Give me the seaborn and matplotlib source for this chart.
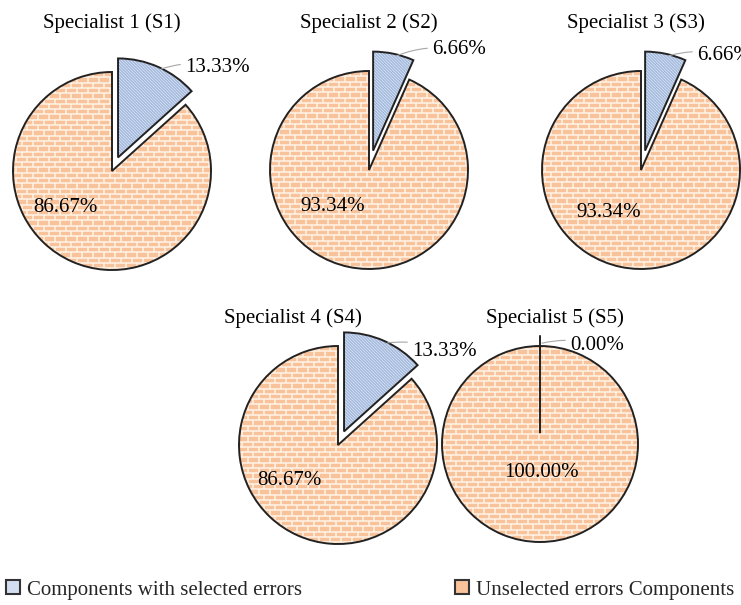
import numpy as np
import matplotlib
matplotlib.use("Agg")
import matplotlib.pyplot as plt
import seaborn as sns
from matplotlib.patches import Wedge, Patch
from matplotlib.collections import LineCollection

# ---- data -------------------------------------------------------------
titles = ["Specialist 1 (S1)", "Specialist 2 (S2)", "Specialist 3 (S3)",
          "Specialist 4 (S4)", "Specialist 5 (S5)"]
selected_pct = [13.33, 6.66, 6.66, 13.33, 0.00]
unselected_pct = [86.67, 93.34, 93.34, 86.67, 100.00]
legend_labels = ["Components with selected errors", "Unselected errors Components"]

# ---- layout (pixel units, y measured from the top) --------------------
W, H = 741, 605
centers = [(112, 171), (369, 170), (641, 170), (338, 445), (540, 444)]
radii = [99, 99, 99, 99, 98]
explode = [0.15, 0.2, 0.2, 0.15, 0.11]      # fraction of the radius
title_pos = [(112, 28), (369, 28), (636, 28), (293, 323), (555, 323)]
inner_pos = [(65, 212), (333, 211), (609, 217), (289, 485), (541, 477)]
outer_pos = [(185, 67), (432, 50), (697, 56), (412, 352), (570, 346)]

blue_face, blue_line = "#D3DFF1", "#9DB3DA"
orange_face, orange_line = "#F8C29A", "#FFF3E8"
edge = "#222222"

sns.set_theme(style="white")
plt.rcParams["font.family"] = ["Liberation Serif", "DejaVu Serif"]
FS = 15


def Y(y):
    return H - y


def clip_lines(ax, patch, segs, color, lw, z):
    lc = LineCollection(segs, colors=color, linewidths=lw, zorder=z)
    ax.add_collection(lc)
    lc.set_clip_path(patch)


def brick_segments(cx, cy, r, row=5.3, brick=11.0):
    segs = []
    x0, x1 = cx - r - 30, cx + r + 30
    ys = np.arange(cy - r - 30, cy + r + 30, row)
    for i, y in enumerate(ys):
        segs.append([(x0, y), (x1, y)])
        off = 0.5 * brick * (i % 2)
        for x in np.arange(x0 + off, x1, brick):
            segs.append([(x, y), (x, y + row)])
    return segs


def stripe_segments(cx, cy, r, step=3.0):
    segs = []
    span = 2 * r + 60
    for k in np.arange(-span, span, step):
        # lines running down to the right
        segs.append([(cx + k - span, cy + span), (cx + k + span, cy - span)])
    return segs


fig = plt.figure(figsize=(W / 100, H / 100), dpi=100)
ax = fig.add_axes([0, 0, 1, 1])

for i in range(5):
    cx, cy = centers[i][0], Y(centers[i][1])
    r = radii[i]
    wedges, _ = ax.pie([selected_pct[i], unselected_pct[i]],
                       center=(cx, cy), radius=r, startangle=90,
                       counterclock=False, explode=[explode[i] * r, 0],
                       colors=[blue_face, orange_face], frame=True,
                       wedgeprops=dict(edgecolor="none", linewidth=0))
    w_sel, w_uns = wedges
    for w in wedges:
        w.set_zorder(1)
    if selected_pct[i] > 0:
        scx, scy = w_sel.center
        clip_lines(ax, w_sel, stripe_segments(scx, scy, r), blue_line, 0.8, 1.1)
    clip_lines(ax, w_uns, brick_segments(cx, cy, r), orange_line, 1.1, 1.1)
    for w in wedges:
        ax.add_patch(Wedge(w.center, w.r, w.theta1, w.theta2, fill=False,
                           edgecolor=edge, linewidth=1.4, zorder=2))

    # title
    tx, ty = title_pos[i]
    ax.text(tx, Y(ty), titles[i], ha="center", va="baseline", fontsize=FS,
            color="black")

    # value inside the large slice
    ix, iy = inner_pos[i]
    ax.text(ix, Y(iy), f"{unselected_pct[i]:.2f}%", ha="center",
            va="baseline", fontsize=FS, color="black", zorder=3)

    # value of the exploded slice with a leader line
    mid = np.deg2rad(0.5 * (w_sel.theta1 + w_sel.theta2))
    scx, scy = w_sel.center
    ax_pt = (scx + w_sel.r * np.cos(mid) + 3, scy + w_sel.r * np.sin(mid) - 2)
    if selected_pct[i] == 0:
        ax_pt = (scx + 2, scy + w_sel.r - 8)
    ox, oy = outer_pos[i]
    ax.annotate(f"{selected_pct[i]:.2f}%", xy=ax_pt, xytext=(ox, Y(oy)),
                ha="left", va="center", fontsize=FS, color="black",
                arrowprops=dict(arrowstyle="-", color="#A6A6A6", lw=0.8,
                                shrinkA=1, shrinkB=0,
                                connectionstyle="arc3,rad=0.15"),
                zorder=3)

ax.set_xlim(0, W)
ax.set_ylim(0, H)
ax.set_aspect("equal")
ax.set_axis_off()

handles = [Patch(facecolor=blue_face, edgecolor="#333333", linewidth=1.5),
           Patch(facecolor=orange_face, edgecolor="#333333", linewidth=1.5)]
leg_kw = dict(frameon=False, fontsize=FS, handlelength=0.65, handleheight=0.65,
              handletextpad=0.35, borderpad=0, borderaxespad=0)
leg1 = ax.legend(handles=[handles[0]], labels=[legend_labels[0]],
                 loc="center left", bbox_to_anchor=(6 / W, 1 - 590 / H), **leg_kw)
ax.add_artist(leg1)
ax.legend(handles=[handles[1]], labels=[legend_labels[1]],
          loc="center left", bbox_to_anchor=(455 / W, 1 - 590 / H), **leg_kw)

fig.savefig("out.png", dpi=100)
